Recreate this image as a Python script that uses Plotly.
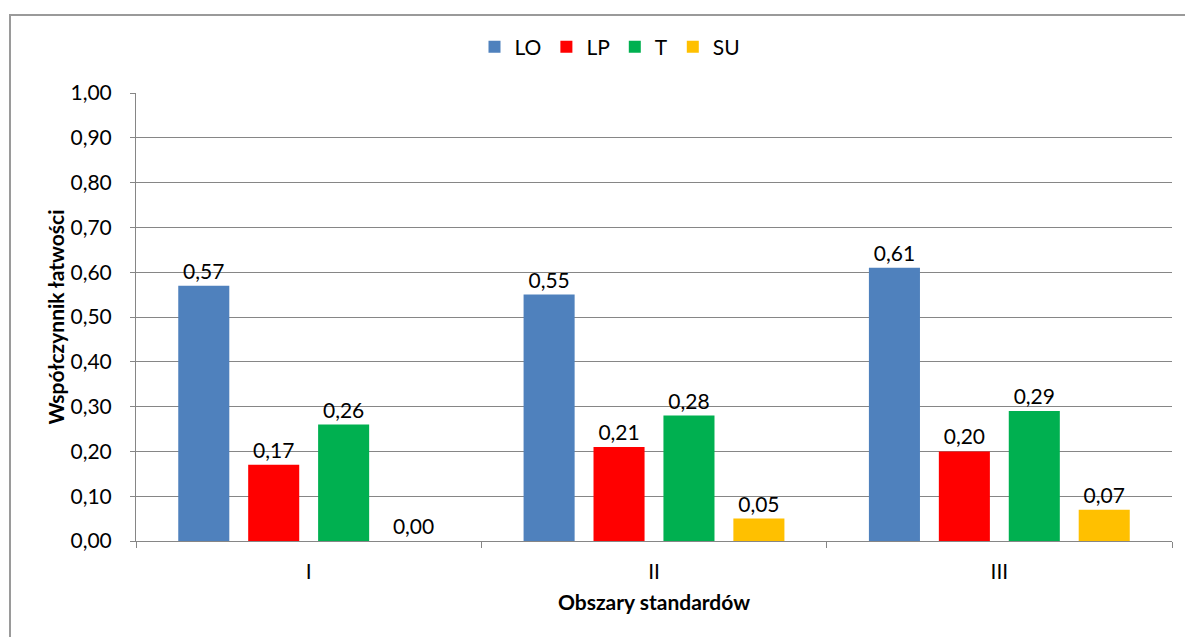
import plotly.graph_objects as go

# Obszary standardów i wartości współczynnika łatwości dla każdej grupy
categories = ["I", "II", "III"]
series_names = ["LO", "LP", "T", "SU"]
lo_values = [0.57, 0.55, 0.61]
lp_values = [0.17, 0.21, 0.20]
t_values = [0.26, 0.28, 0.29]
su_values = [0.00, 0.05, 0.07]
series_colors = ["#4F81BD", "#FF0000", "#00B050", "#FFC000"]
y_ticks = [0.0, 0.1, 0.2, 0.3, 0.4, 0.5, 0.6, 0.7, 0.8, 0.9, 1.0]

FONT = "Lato, Open Sans, sans-serif"
FS = 21

fig = go.Figure()
for name, vals, color in zip(series_names,
                             [lo_values, lp_values, t_values, su_values],
                             series_colors):
    fig.add_trace(go.Bar(
        x=categories,
        y=vals,
        name=name,
        marker=dict(color=color, line=dict(width=0)),
        text=[f"{v:.2f}".replace(".", ",") for v in vals],
        textposition="outside",
        textfont=dict(family=FONT, size=FS, color="#000000"),
        cliponaxis=False,
    ))

# Figure and plot-area geometry in pixels (used for the outer frame and legend)
W, H = 1185, 637
ML, MR, MT, MB = 136, 13, 93, 96
pw, ph = W - ML - MR, H - MT - MB


def px_x(x):
    return (x - ML) / pw


def px_y(y):
    return (H - MB - y) / ph


fig.update_layout(
    width=W,
    height=H,
    margin=dict(l=ML, r=MR, t=MT, b=MB),
    paper_bgcolor="white",
    plot_bgcolor="white",
    separators=", ",
    barmode="group",
    bargap=0.19,
    bargroupgap=0.27,
    font=dict(family=FONT, size=FS, color="#000000"),
    legend=dict(
        orientation="h",
        x=px_x(610),
        xanchor="center",
        y=px_y(47),
        yanchor="middle",
        font=dict(family=FONT, size=FS),
        itemwidth=30,
        traceorder="normal",
    ),
    showlegend=True,
    xaxis=dict(
        type="category",
        showline=True,
        linecolor="#868686",
        linewidth=1,
        ticks="outside",
        tickson="boundaries",
        ticklen=6,
        tickcolor="#868686",
        showgrid=False,
        ticklabelstandoff=12,
        tickfont=dict(family=FONT, size=FS),
        title=dict(text="<b>Obszary standardów</b>",
                   font=dict(family=FONT, size=FS), standoff=13),
    ),
    yaxis=dict(
        range=[0, 1.0],
        tickvals=y_ticks,
        tickformat=".2f",
        showline=True,
        linecolor="#868686",
        linewidth=1,
        ticks="outside",
        ticklen=5,
        tickcolor="#868686",
        showgrid=True,
        gridcolor="#868686",
        gridwidth=1,
        zeroline=False,
        ticklabelstandoff=14,
        tickfont=dict(family=FONT, size=FS),
        title=dict(text="<b>Współczynnik łatwości</b>",
                   font=dict(family=FONT, size=FS), standoff=0),
    ),
    shapes=[dict(
        type="rect",
        xref="paper", yref="paper",
        x0=px_x(10), x1=px_x(1195),
        y0=px_y(650), y1=px_y(15),
        line=dict(color="#9A9A9A", width=2),
        fillcolor="rgba(0,0,0,0)",
        layer="below",
    )],
)

fig.write_html("out.html")
